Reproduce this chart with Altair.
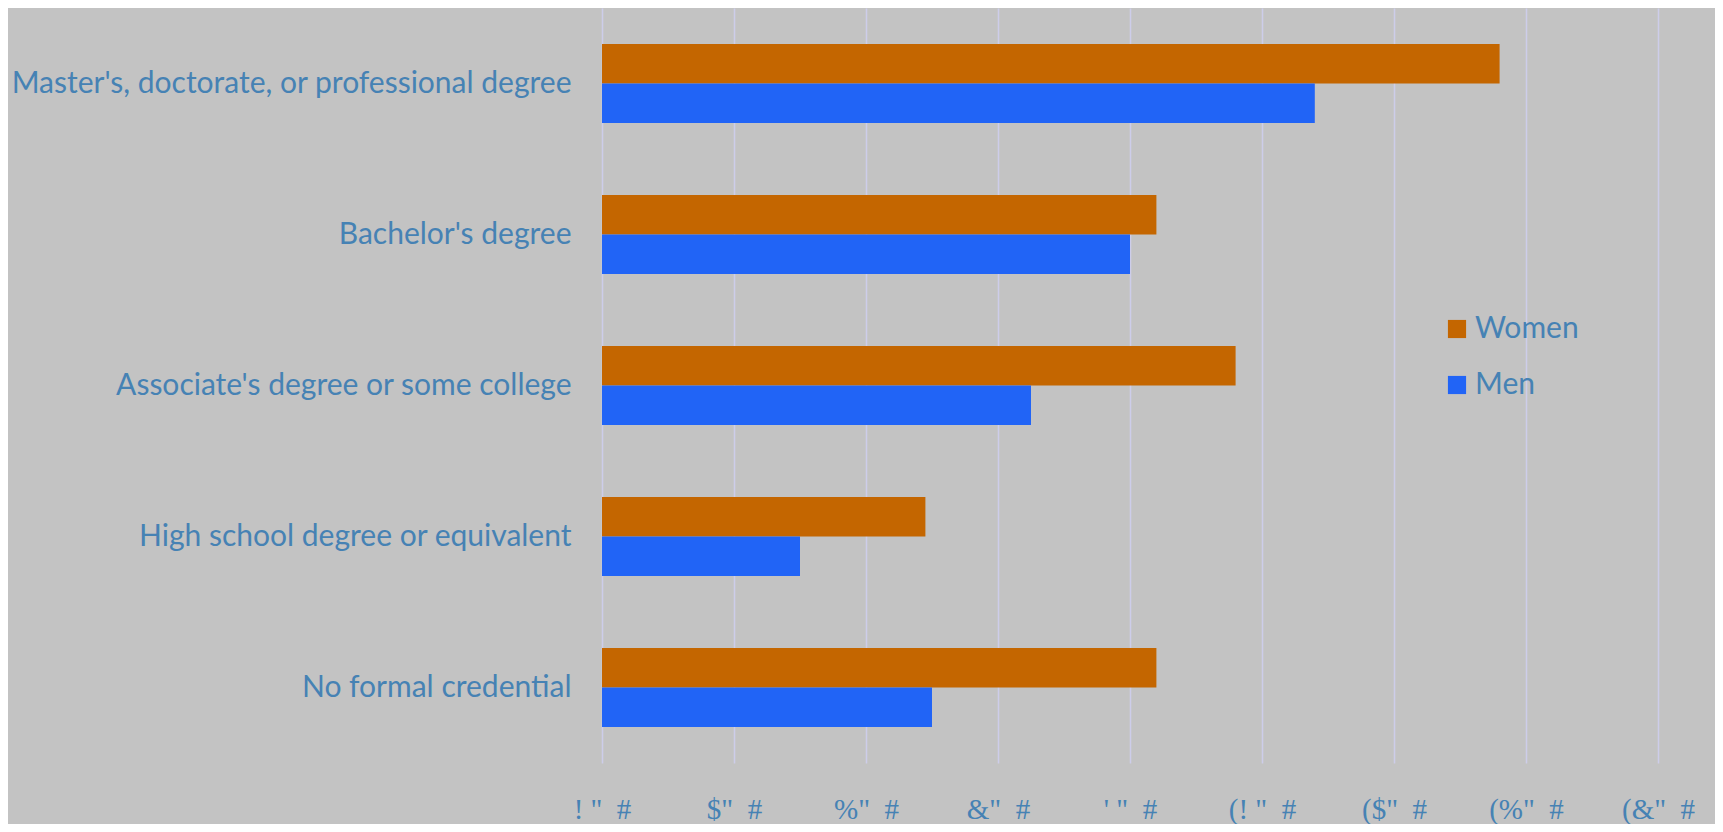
import altair as alt
import pandas as pd

categories = [
    "Master's, doctorate, or professional degree",
    "Bachelor's degree",
    "Associate's degree or some college",
    "High school degree or equivalent",
    "No formal credential",
]
women = [13.6, 8.4, 9.6, 4.9, 8.4]
men = [10.8, 8.0, 6.5, 3.0, 5.0]
series = ["Women", "Men"]
tick_values = [0, 2, 4, 6, 8, 10, 12, 14, 16]
tick_labels = ['! " \u00a0#', '$" \u00a0#', '%" \u00a0#', '&" \u00a0#', "' \" \u00a0#",
               '(! " \u00a0#', '($" \u00a0#', '(%" \u00a0#', '(&" \u00a0#']

rows = []
for c, w, m in zip(categories, women, men):
    rows.append({"cat": c, "series": "Women", "value": w})
    rows.append({"cat": c, "series": "Men", "value": m})
df = pd.DataFrame(rows)

lab_js = "[" + ",".join("'" + s.replace("'", "\\'") + "'" for s in tick_labels) + "]"
label_expr = f"{lab_js}[round(datum.value/2)]"

label_color = "#4682b4"

chart = alt.Chart(df).mark_bar().encode(
    x=alt.X("value:Q",
            scale=alt.Scale(domain=[0, 16], nice=False, zero=True),
            axis=alt.Axis(values=tick_values, labelExpr=label_expr, title=None,
                          domain=False, ticks=False, grid=True,
                          gridColor="#cdcdea", gridWidth=1.5,
                          labelFont="Liberation Sans Narrow", labelFontSize=29,
                          labelColor=label_color, labelPadding=32, labelAlign="center")),
    y=alt.Y("cat:N", sort=categories,
            scale=alt.Scale(paddingInner=0.477, paddingOuter=0.2385),
            axis=alt.Axis(title=None, domain=False, ticks=False,
                          labelFont="Lato", labelFontSize=30, labelColor=label_color,
                          labelPadding=31, labelLimit=700)),
    yOffset=alt.YOffset("series:N", sort=series, scale=alt.Scale(paddingInner=0, paddingOuter=0)),
    color=alt.Color("series:N", sort=series,
                    scale=alt.Scale(domain=series, range=["#c46600", "#2164f6"]),
                    legend=alt.Legend(title=None, orient="none", legendX=840, legendY=306,
                                      symbolType="square", symbolSize=330,
                                      symbolStrokeWidth=0,
                                      labelFont="Lato", labelFontSize=30,
                                      labelColor=label_color, labelOffset=3,
                                      rowPadding=26)),
).properties(
    width=1056, height=755,
    background="#c3c3c3",
    padding={"left": 594, "top": 0, "right": 57, "bottom": 61},
    autosize=alt.AutoSizeParams(type="none"),
).configure_view(stroke=None).configure_axis(gridOpacity=1)

chart.save("out.html", embed_options={"renderer": "svg", "actions": False})
